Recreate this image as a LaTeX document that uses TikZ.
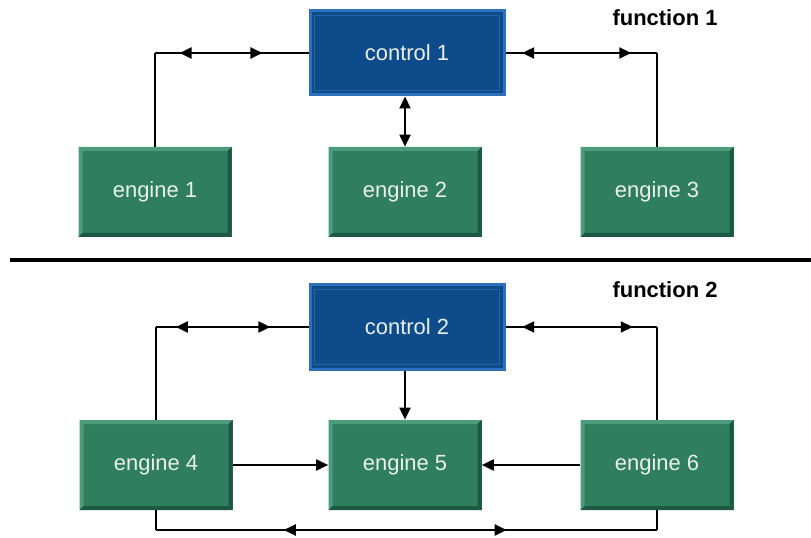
\documentclass[tikz,border=0pt]{standalone}
\usepackage{fontspec}
\setmainfont{Liberation Sans}
\usetikzlibrary{arrows.meta,decorations.markings}

\definecolor{ctrlblue}{HTML}{0E4B8B}
\definecolor{ctrledge}{HTML}{2D70BC}
\definecolor{ctrlline}{HTML}{2A62A4}
\definecolor{enginegreen}{HTML}{2F7E5F}
\definecolor{enginelight}{HTML}{4C9C7B}
\definecolor{enginedark}{HTML}{1D5840}
\definecolor{boxtext}{HTML}{E8EFEC}

\tikzset{
    Head/.tip={Triangle[length=2.4mm,width=2.2mm]},
    link/.style={line width=0.4mm, black},
    twoway/.style 2 args={postaction={decorate}, decoration={markings,
        mark=at position #1 with {\arrowreversed{Head}},
        mark=at position #2 with {\arrow{Head}}}},
    ctrl/.style={minimum width=38.8mm, minimum height=16.8mm, fill=ctrlblue,
        draw=ctrledge, line width=0.6mm, text=boxtext, font=\fontsize{12.5}{15}\selectfont,
        path picture={
            \draw[ctrlline, line width=0.3mm]
                ([shift={(0.9mm,-0.9mm)}]path picture bounding box.north west) rectangle
                ([shift={(-0.9mm,0.9mm)}]path picture bounding box.south east);
        }},
    engine/.style={minimum width=30.6mm, minimum height=18mm, fill=enginegreen,
        text=boxtext, font=\fontsize{12.5}{15}\selectfont, inner sep=0pt,
        path picture={
            \fill[enginelight] (path picture bounding box.north west)
                -- (path picture bounding box.north east) -- ++(-0.8mm,-0.8mm)
                -| ([shift={(0.8mm,0.8mm)}]path picture bounding box.south west)
                -- (path picture bounding box.south west) -- cycle;
            \fill[enginedark] (path picture bounding box.south west)
                -- (path picture bounding box.south east)
                -- (path picture bounding box.north east) -- ++(-0.8mm,-0.8mm)
                |- ([shift={(0.8mm,0.8mm)}]path picture bounding box.south west) -- cycle;
        }},
    title/.style={font=\fontsize{12.5}{15}\selectfont\bfseries}
}

\begin{document}
\begin{tikzpicture}[x=0.2mm, y=-0.2mm]
    % Frame
    \useasboundingbox (0,0) rectangle (811,538);

    % Function 1
    \node[title] (f1) at (665,18) {function 1};
    \node[ctrl] (c1) at (407,53) {control 1};
    \node[engine] (e1) at (155,192) {engine 1};
    \node[engine] (e2) at (405,192) {engine 2};
    \node[engine] (e3) at (657,192) {engine 3};

    \coordinate (k1) at (e1.north |- c1.west);
    \coordinate (k3) at (e3.north |- c1.east);
    \draw[link] (e1.north) -- (k1);
    \draw[link, twoway={0.16}{0.70}] (k1) -- (c1.west);
    \draw[link, twoway={0.11}{0.83}] (c1.east) -- (k3);
    \draw[link] (k3) -- (e3.north);
    \draw[link, {Head}-{Head}] (e2.north |- c1.south) -- (e2.north);

    % Separator
    \coordinate (sepl) at (10,260);
    \coordinate (sepr) at (811,260);
    \draw[line width=0.65mm] (sepl) -- (sepr);

    % Function 2
    \node[title] (f2) at (665,290) {function 2};
    \node[ctrl] (c2) at (407,327) {control 2};
    \node[engine] (e4) at (156,465) {engine 4};
    \node[engine] (e5) at (405,465) {engine 5};
    \node[engine] (e6) at (657,465) {engine 6};

    \coordinate (k4) at (e4.north |- c2.west);
    \coordinate (k6) at (e6.north |- c2.east);
    \draw[link] (e4.north) -- (k4);
    \draw[link, twoway={0.13}{0.75}] (k4) -- (c2.west);
    \draw[link, twoway={0.11}{0.84}] (c2.east) -- (k6);
    \draw[link] (k6) -- (e6.north);
    \draw[link, -{Head}] (e5.north |- c2.south) -- (e5.north);
    \draw[link, -{Head}] (e4.east) -- (e5.west);
    \draw[link, -{Head}] (e6.west) -- (e5.east);

    % Bottom loop
    \coordinate (low) at (0,530);
    \coordinate (b4) at (e4.south |- low);
    \coordinate (b6) at (e6.south |- low);
    \draw[link] (e4.south) -- (b4);
    \draw[link, twoway={0.255}{0.70}] (b4) -- (b6);
    \draw[link] (b6) -- (e6.south);
\end{tikzpicture}
\end{document}
